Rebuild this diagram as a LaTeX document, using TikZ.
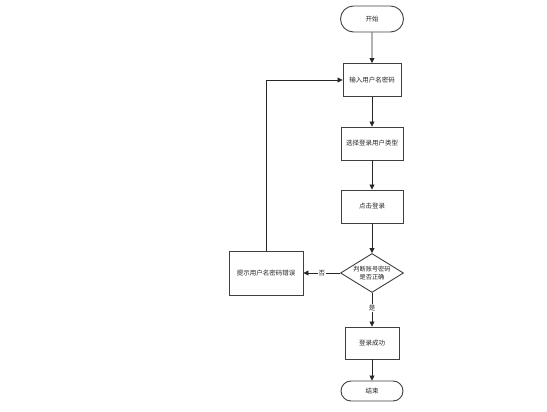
\documentclass[tikz,border=0pt]{standalone}
\usepackage{fontspec}
\newfontfamily\cjk{Noto Sans CJK SC}
\usetikzlibrary{shapes.geometric,shapes.misc,arrows.meta}
\begin{document}
\begin{tikzpicture}[x=1pt,y=-1pt,
  every node/.style={font=\cjk\fontsize{6.5}{8}\selectfont, text=black!85},
  box/.style={draw=black!75, line width=0.9pt, fill=white, inner sep=0pt},
  term/.style={draw=black!75, line width=0.9pt, fill=white, rounded rectangle, inner sep=0pt},
  dia/.style={draw=black!75, line width=0.9pt, fill=white, diamond, inner sep=0pt, aspect=1.6},
  conn/.style={draw=black!85, line width=0.8pt, -{Triangle[length=5pt,width=5pt]}},
  lbl/.style={fill=white, inner sep=1pt}]
\useasboundingbox (0,0) rectangle (547,412);
\node[term, minimum width=63pt, minimum height=26pt] (start) at (372,19) {开始};
\node[box, minimum width=58pt, minimum height=33pt] (b1) at (372,80) {输入用户名密码};
\node[box, minimum width=62pt, minimum height=33pt] (b2) at (372,143.5) {选择登录用户类型};
\node[box, minimum width=62pt, minimum height=33pt] (b3) at (372,206.5) {点击登录};
\node[dia, minimum width=63pt, minimum height=39pt, align=center] (d) at (372,273) {\fontsize{6.2}{7.5}\selectfont\shortstack{判断账号密码\\是否正确}};
\node[box, minimum width=74pt, minimum height=44pt] (err) at (266,273) {提示用户名密码错误};
\node[box, minimum width=54pt, minimum height=32pt] (ok) at (372,343) {登录成功};
\node[term, minimum width=62pt, minimum height=20pt] (end) at (372,391) {结束};
\coordinate (c1) at (266,80);
\draw[conn] (start) -- (b1);
\draw[conn] (b1) -- (b2);
\draw[conn] (b2) -- (b3);
\draw[conn] (b3) -- (d);
\draw[conn] (d) -- node[lbl] (no) {否} (err);
\draw[conn] (d) -- node[lbl, pos=0.45] (yes) {是} (ok);
\draw[conn] (ok) -- (end);
\draw[conn] (err.north) -- (c1) -- (b1.west);
\end{tikzpicture}
\end{document}
